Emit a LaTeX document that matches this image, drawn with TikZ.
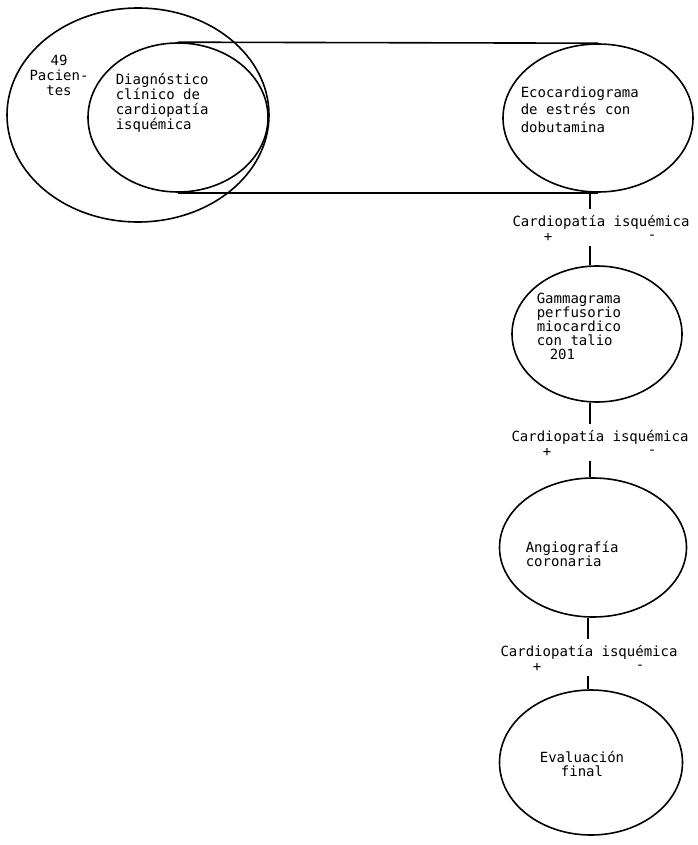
\documentclass[tikz,border=0pt]{standalone}
\usepackage{fontspec}
\setmonofont{DejaVu Sans Mono}
\usetikzlibrary{shapes.geometric}
\begin{document}
\begin{tikzpicture}[x=1pt,y=-1pt,line width=1.6pt,
  ell/.style={draw, ellipse, inner sep=0pt},
  txt/.style={font=\ttfamily\fontsize{14}{15}\selectfont, align=left, inner sep=0pt, anchor=west},
  lab/.style={font=\ttfamily\fontsize{14}{15}\selectfont, inner sep=0pt},
  sgn/.style={font=\ttfamily\fontsize{14}{15}\selectfont, inner sep=0pt},
  gapabove/.style={shorten >=5pt},
  gapbelow/.style={shorten <=4pt}]
\useasboundingbox (0,0) rectangle (697,845);
% ellipses
\node[ell, minimum width=262pt, minimum height=214pt] (pac) at (138,115) {};
\node[ell, minimum width=180pt, minimum height=149pt] (diag) at (178,117.5) {};
\node[ell, minimum width=190pt, minimum height=148pt] (eco) at (598,118) {};
\node[ell, minimum width=170pt, minimum height=136pt] (gam) at (597,334) {};
\node[ell, minimum width=187pt, minimum height=139pt] (ang) at (593,547.5) {};
\node[ell, minimum width=183pt, minimum height=145pt] (eva) at (591,762.5) {};
% texts
\node[txt, align=center, anchor=center] (pactxt) at (59,75) {49\\Pacien-\\tes};
\node[txt] (diagtxt) at (115,103) {Diagnóstico\\clínico de\\cardiopatía\\isquémica};
\node[txt, font=\ttfamily\fontsize{14}{17.5}\selectfont] (ecotxt) at (520,109.5) {Ecocardiograma\\de estrés con\\dobutamina};
\node[txt, font=\ttfamily\fontsize{14}{14}\selectfont] (gamtxt) at (536,326) {Gammagrama\\perfusorio\\miocardico\\con talio\\\hspace*{13pt}201};
\node[txt, font=\ttfamily\fontsize{14}{13.5}\selectfont] (angtxt) at (525,554) {Angiografía\\coronaria};
\node[txt, align=center, anchor=center, font=\ttfamily\fontsize{14}{14}\selectfont] (evatxt) at (582,764) {Evaluación\\final};
% connector between diagnosis and echo
\draw (diag.north) -- (eco.north);
\draw (diag.south) -- (eco.south);
% labels
\node[lab] (lab1) at (601,222) {Cardiopatía isquémica};
\node[sgn] (p1) at (548,237) {+};
\node[sgn] (m1) at (652,237) {-};
\node[lab] (lab2) at (600,437) {Cardiopatía isquémica};
\node[sgn] (p2) at (547,452) {+};
\node[sgn] (m2) at (652,452) {-};
\node[lab] (lab3) at (589,652) {Cardiopatía isquémica};
\node[sgn] (p3) at (537,667) {+};
\node[sgn] (m3) at (640,667) {-};
\coordinate (va) at (590,0);
\coordinate (vb) at (588,0);
\draw[gapabove] (va |- eco.south) -- (va |- lab1.north);
\draw[gapbelow] (va |- p1.south) -- (va |- gam.north);
\draw[gapabove] (va |- gam.south) -- (va |- lab2.north);
\draw[gapbelow] (va |- p2.south) -- (va |- ang.north);
\draw[gapabove] (vb |- ang.south) -- (vb |- lab3.north);
\draw[gapbelow] (vb |- p3.south) -- (vb |- eva.north);
\end{tikzpicture}
\end{document}
